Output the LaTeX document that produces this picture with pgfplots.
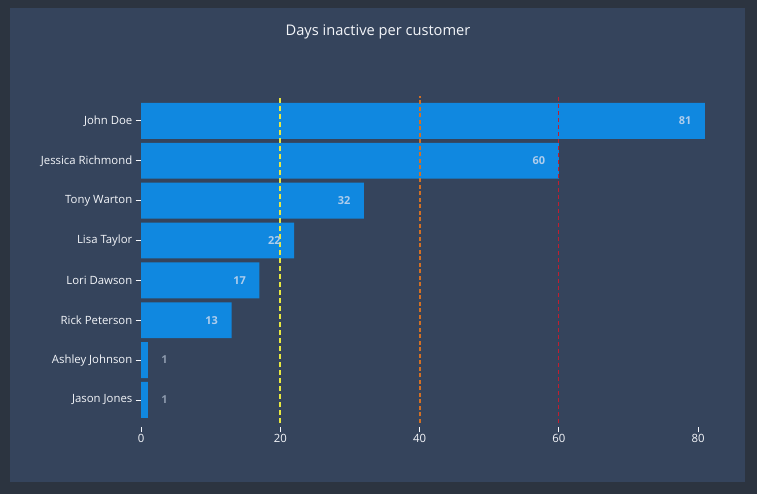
\documentclass[border=0pt]{standalone}
\usepackage{pgfplots}
\pgfplotsset{compat=1.18}
\usepackage{pgfplotstable}
\usepackage{fontspec}
\setmainfont{Open Sans}

\definecolor{outerbg}{HTML}{2C3440}
\definecolor{panelbg}{HTML}{35445C}
\definecolor{barblue}{HTML}{1088E0}
\definecolor{txt}{HTML}{F4F6FA}
\definecolor{inlbl}{HTML}{AFCDEC}
\definecolor{outlbl}{HTML}{8D9AAD}
\definecolor{thryellow}{RGB}{232,232,64}
\definecolor{throrange}{RGB}{210,112,36}
\definecolor{thrred}{RGB}{192,30,48}

% days inactive, bottom row first (y = 0 is Jason Jones)
\pgfplotstableread{
y  days
0  1
1  1
2  13
3  17
4  22
5  32
6  60
7  81
}\inactive

\pgfplotstableread{
y  days
2  13
3  17
4  22
5  32
6  60
7  81
}\insidelabels

\pgfplotstableread{
y  days
0  1
1  1
}\outsidelabels

% threshold lines: x position, bottom and top of each
\pgfplotstableread{
x   y
20  -0.577
20  7.627
}\thrA
\pgfplotstableread{
x   y
40  -0.577
40  7.627
}\thrB
\pgfplotstableread{
x   y
60  -0.577
60  7.627
}\thrC

\begin{document}
\begin{tikzpicture}[x=1bp,y=1bp]
\fill[outerbg] (0,0) rectangle (757,494);
\fill[panelbg] (10,12) rectangle (745,486);
\node[text=txt, font=\fontsize{14.7}{17}\selectfont] at (378,462.5) {Days inactive per customer};
\begin{axis}[
  at={(141bp,67.1bp)}, anchor=south west,
  scale only axis, width=584.85bp, height=331.9bp,
  xmin=0, xmax=84, ymin=-0.676, ymax=7.65,
  axis line style={draw=none},
  clip=false,
  xtick={0,20,40,60,80}, ytick={0,1,...,7},
  xtick pos=bottom, ytick pos=left,
  yticklabels={Jason Jones, Ashley Johnson, Rick Peterson, Lori Dawson, Lisa Taylor, Tony Warton, Jessica Richmond, John Doe},
  tick align=outside, major tick length=5.5bp,
  tick style={color=txt, line width=0.8bp},
  /pgf/number format/assume math mode=true,
  ticklabel style={text=txt, font=\fontsize{11.4}{13}\selectfont},
  xticklabel style={inner sep=1.5bp},
  yticklabel style={inner sep=3bp},
]
  \addplot[xbar, bar width=35.9bp, fill=barblue, draw=none] table[x=days, y=y] {\inactive};

  \addplot[only marks, mark=none, point meta=x,
    nodes near coords={\pgfmathprintnumber{\pgfplotspointmeta}},
    every node near coord/.append style={anchor=east, xshift=-10bp, text=inlbl,
      font=\fontsize{11}{13}\selectfont\bfseries}]
    table[x=days, y=y] {\insidelabels};

  \addplot[only marks, mark=none, point meta=x,
    nodes near coords={\pgfmathprintnumber{\pgfplotspointmeta}},
    every node near coord/.append style={anchor=west, xshift=10bp, text=outlbl,
      font=\fontsize{11}{13}\selectfont\bfseries}]
    table[x=days, y=y] {\outsidelabels};

  \addplot[draw=thryellow, line width=2bp, dash pattern=on 5bp off 3bp, no markers] table {\thrA};
  \addplot[draw=throrange, line width=2bp, dash pattern=on 4bp off 2.5bp, no markers] table {\thrB};
  \addplot[draw=thrred, line width=1.3bp, dash pattern=on 4bp off 3bp, no markers] table {\thrC};
\end{axis}
\end{tikzpicture}
\end{document}
